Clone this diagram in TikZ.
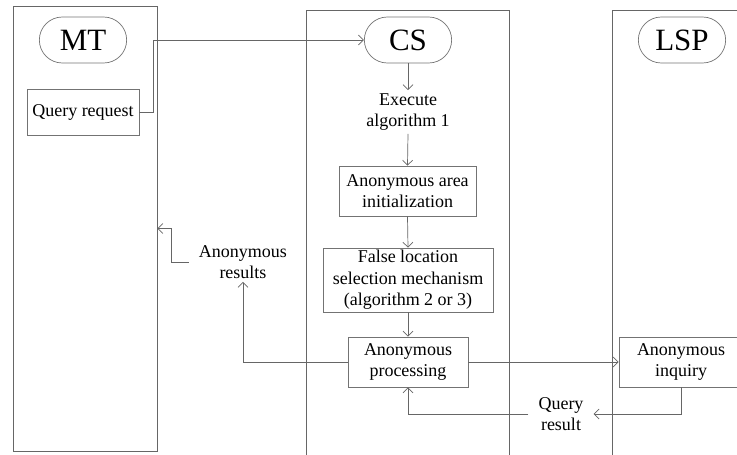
\documentclass[tikz,border=0pt]{standalone}
\usepackage{fontspec}
\setmainfont{Liberation Serif}
\usetikzlibrary{arrows.meta,shapes.misc}

\begin{document}
\begin{tikzpicture}[x=1pt,y=-1pt,>={Straight Barb[length=5pt,width=10pt]}]
        \tikzstyle{lane}=[draw=black!60,line width=0.8pt,inner sep=0pt]
        \tikzstyle{actor}=[rounded rectangle,draw=black!55,line width=0.7pt,minimum width=94pt,minimum height=46pt,font=\fontsize{31}{34}\selectfont]
        \tikzstyle{box}=[rectangle,draw=black!55,line width=0.7pt,align=center,inner sep=2pt,font=\fontsize{18}{21.5}\selectfont]
        \tikzstyle{note}=[align=center,inner xsep=10pt,inner ysep=3pt,font=\fontsize{18}{21.5}\selectfont]
        \tikzstyle{flow}=[draw=black!60,line width=0.7pt,->]
        \path[use as bounding box,clip] (0,0) rectangle (737,455);
       \begin{scope}
         % swim lanes
         \node [lane,minimum width=144pt,minimum height=445pt] (mtlane) at (85,228.5) {};
         \node [lane,minimum width=203pt,minimum height=470pt] (cslane) at (407.5,245) {};
         \node [lane,minimum width=203pt,minimum height=470pt] (lsplane) at (713.5,245) {};

         \node [actor] (mt) at (83,40) {MT};
         \node [actor] (cs) at (408,40) {CS};
         \node [actor] (lsp) at (682,40) {LSP};

         \node [box,minimum width=112pt,minimum height=46pt] (qreq) at (83,112) {Query request};
         \node [note,inner sep=3pt] (exec) at (408,112) {Execute\\algorithm 1};
         \node [box,minimum width=137pt,minimum height=50pt] (area) at (407.5,191) {Anonymous area\\initialization};
         \node [box,minimum width=170pt,minimum height=64pt] (false) at (408,280) {False location\\selection mechanism\\(algorithm 2 or 3)};
         \node [box,minimum width=120pt,minimum height=50pt] (proc) at (408,362) {Anonymous\\processing};
         \node [box,minimum width=124pt,minimum height=50pt] (inq) at (681,362) {Anonymous\\inquiry};
         \node [note] (res) at (243,262) {Anonymous\\results};
         \node [note] (qres) at (561,414) {Query\\result};

         \path[flow] (qreq.east) -- ++(14,0) |- (cs.west);
         \path[flow] (cs.south) -- (exec.north);
         \path[flow] (exec.south) -- (area.north);
         \path[flow] (area.south) -- (false.north);
         \path[flow] (false.south) -- (proc.north);
         \path[flow] (proc.west) -| (res.south);
         \path[flow] (res.west) -- ++(-17,0) |- (mtlane.east);
         \path[flow] (proc.east) -- (inq.west);
         \path[flow] (inq.south) |- (qres.east);
         \path[flow] (qres.west) -| (proc.south);
        \end{scope}
      \end{tikzpicture}
\end{document}
